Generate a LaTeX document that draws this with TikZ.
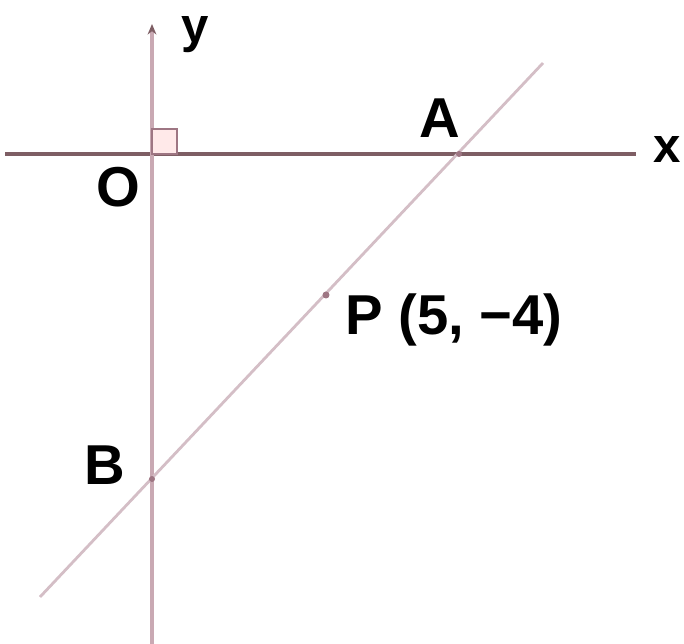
\documentclass[tikz,border=0pt]{standalone}
\usepackage{fontspec}
\setmainfont{Liberation Sans}
\usetikzlibrary{arrows.meta,positioning,calc}

\definecolor{eixox}{HTML}{7E5E64}
\definecolor{eixoy}{HTML}{C9A9B3}
\definecolor{reta}{HTML}{D4BEC6}
\definecolor{ponto}{HTML}{9E7683}

\begin{document}
\begin{tikzpicture}[
    x=0.02cm, y=-0.02cm,
    rotulo/.style={
        inner sep=0pt,
        font=\fontsize{32}{36}\selectfont\bfseries
    },
    eixoh/.style={draw=eixox, line width=2pt},
    eixov/.style={draw=eixoy, line width=2pt, -{Stealth[length=6pt,width=5pt,color=eixox]}},
    secante/.style={draw=reta, line width=1.6pt},
    angulo/.style={draw=ponto, fill=pink!35, line width=1pt}
]
\useasboundingbox (0,0) rectangle (684,644);

% EIXOS
\coordinate (O) at (152,154);
\coordinate (xesq) at (5,154);
\coordinate (xdir) at (636,154);
\coordinate (ybaixo) at (152,644);
\coordinate (ytopo) at (152,24);

\draw[eixoh] (xesq) -- (xdir);
\draw[eixov] (ybaixo) -- (ytopo);

% ANGULO RETO
\draw[angulo] (O) rectangle ++(25,-25);

% RETA AB
\coordinate (inicio) at (40,597);
\coordinate (fim) at (543,63);
\coordinate (A) at (459,154);
\coordinate (B) at (152,479);
\coordinate (P) at (326,295);

\draw[secante] (inicio) -- (fim);
\fill[ponto] (P) circle (3.5);
\fill[ponto] (A) circle (3);
\fill[ponto] (B) circle (3);

% ROTULOS
\node[rotulo, font=\fontsize{28}{32}\selectfont\bfseries] (lx) at (667,150) {x};
\node[rotulo, font=\fontsize{28}{32}\selectfont\bfseries] (ly) at (195,35) {y};
\node[rotulo] (lo) at (118,187) {O};
\node[rotulo] (la) at (440,118) {A};
\node[rotulo] (lb) at (105,465) {B};
\node[rotulo, anchor=west] (lp) at (345,320) {P (5, −4)};

\end{tikzpicture}
\end{document}
